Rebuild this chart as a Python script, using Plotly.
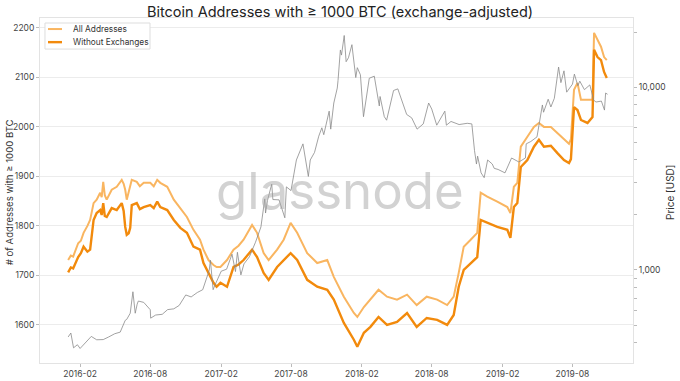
import plotly.graph_objects as go

# ---- Address counts ----
addr_dates = [
    "2016-01-01", "2016-01-08", "2016-01-14", "2016-01-20", "2016-01-27", "2016-02-03", "2016-02-10",
    "2016-02-20", "2016-02-27", "2016-03-07", "2016-03-15", "2016-03-24", "2016-03-28", "2016-04-01",
    "2016-04-05", "2016-04-10", "2016-04-23", "2016-05-06", "2016-05-19", "2016-05-24", "2016-05-28",
    "2016-06-01", "2016-06-06", "2016-06-10", "2016-06-14", "2016-06-27", "2016-07-05", "2016-07-15",
    "2016-08-01", "2016-08-10", "2016-08-19", "2016-08-27", "2016-09-14", "2016-10-01", "2016-10-18",
    "2016-11-04", "2016-11-21", "2016-12-08", "2016-12-17", "2016-12-30", "2017-01-12", "2017-01-20",
    "2017-01-30", "2017-02-16", "2017-03-05", "2017-03-18", "2017-03-31", "2017-04-22", "2017-05-05",
    "2017-05-22", "2017-06-04", "2017-06-26", "2017-07-13", "2017-07-31", "2017-08-17", "2017-09-12",
    "2017-10-08", "2017-11-03", "2017-11-20", "2017-12-16", "2018-01-11", "2018-01-20", "2018-02-06",
    "2018-02-23", "2018-03-16", "2018-04-07", "2018-05-03", "2018-05-29", "2018-06-23", "2018-07-19",
    "2018-08-15", "2018-09-10", "2018-09-27", "2018-10-10", "2018-10-23", "2018-11-10", "2018-11-27",
    "2018-12-06", "2018-12-23", "2019-01-18", "2019-02-13", "2019-02-21", "2019-03-02", "2019-03-11",
    "2019-03-20", "2019-04-06", "2019-04-23", "2019-05-06", "2019-05-19", "2019-06-06", "2019-06-23",
    "2019-07-10", "2019-07-23", "2019-07-28", "2019-08-05", "2019-08-14", "2019-08-23", "2019-09-09",
    "2019-09-22", "2019-09-26", "2019-10-05", "2019-10-14", "2019-10-22", "2019-10-29",
]
all_addresses = [
    1731, 1740, 1738, 1752, 1765, 1770, 1786,
    1800, 1812, 1846, 1853, 1867, 1858, 1889,
    1862, 1853, 1873, 1879, 1893, 1885, 1873,
    1853, 1868, 1879, 1893, 1889, 1880, 1887,
    1887, 1880, 1893, 1887, 1879, 1853, 1836,
    1818, 1792, 1772, 1752, 1731, 1721, 1717,
    1717, 1731, 1752, 1760, 1772, 1802, 1786,
    1745, 1731, 1752, 1772, 1806, 1786, 1745,
    1725, 1731, 1697, 1657, 1624, 1616, 1636,
    1651, 1671, 1657, 1651, 1661, 1640, 1657,
    1651, 1640, 1657, 1705, 1758, 1772, 1786,
    1867, 1859, 1849, 1838, 1826, 1879, 1887,
    1960, 1980, 2000, 2008, 2000, 2000, 1988,
    1974, 1966, 1975, 2075, 2089, 2055, 2055,
    2055, 2190, 2176, 2162, 2141, 2135,
]
without_exchanges = [
    1706, 1716, 1714, 1725, 1737, 1745, 1758,
    1748, 1752, 1812, 1826, 1832, 1822, 1846,
    1820, 1818, 1836, 1832, 1846, 1830, 1798,
    1782, 1785, 1796, 1842, 1846, 1834, 1838,
    1842, 1836, 1849, 1838, 1832, 1812, 1796,
    1786, 1758, 1752, 1725, 1705, 1685, 1677,
    1685, 1677, 1717, 1722, 1731, 1752, 1737,
    1705, 1691, 1717, 1731, 1745, 1731, 1691,
    1677, 1671, 1651, 1604, 1570, 1556, 1584,
    1596, 1616, 1600, 1606, 1624, 1596, 1614,
    1610, 1600, 1620, 1677, 1711, 1725, 1737,
    1812, 1806, 1798, 1792, 1776, 1838, 1846,
    1919, 1933, 1960, 1974, 1960, 1962, 1947,
    1933, 1927, 1935, 2040, 2034, 2014, 2008,
    2020, 2156, 2141, 2135, 2111, 2099,
]

# ---- BTC price (USD) ----
price_dates = [
    "2016-01-01", "2016-01-08", "2016-01-15", "2016-01-25", "2016-02-01", "2016-02-15", "2016-03-01",
    "2016-03-15", "2016-04-01", "2016-04-15", "2016-05-01", "2016-05-15", "2016-05-28", "2016-06-01",
    "2016-06-10", "2016-06-17", "2016-06-23", "2016-06-28", "2016-07-01", "2016-07-15", "2016-08-01",
    "2016-08-02", "2016-08-15", "2016-09-01", "2016-09-15", "2016-10-01", "2016-10-15", "2016-11-01",
    "2016-11-15", "2016-12-01", "2016-12-15", "2017-01-01", "2017-01-04", "2017-01-11", "2017-01-15",
    "2017-02-01", "2017-02-15", "2017-03-01", "2017-03-10", "2017-03-15", "2017-03-24", "2017-04-01",
    "2017-04-15", "2017-05-01", "2017-05-15", "2017-05-25", "2017-05-27", "2017-06-01", "2017-06-12",
    "2017-06-15", "2017-07-01", "2017-07-16", "2017-07-20", "2017-08-01", "2017-08-15", "2017-09-01",
    "2017-09-15", "2017-09-20", "2017-10-01", "2017-10-12", "2017-10-20", "2017-10-25", "2017-11-08",
    "2017-11-12", "2017-11-20", "2017-11-29", "2017-12-01", "2017-12-07", "2017-12-10", "2017-12-17",
    "2017-12-22", "2017-12-28", "2018-01-06", "2018-01-16", "2018-01-20", "2018-01-28", "2018-02-05",
    "2018-02-20", "2018-03-05", "2018-03-18", "2018-03-20", "2018-03-31", "2018-04-06", "2018-04-24",
    "2018-05-05", "2018-05-28", "2018-06-10", "2018-06-24", "2018-07-10", "2018-07-24", "2018-08-01",
    "2018-08-14", "2018-09-04", "2018-09-08", "2018-09-20", "2018-10-11", "2018-11-01", "2018-11-13",
    "2018-11-15", "2018-11-20", "2018-11-25", "2018-11-28", "2018-12-07", "2018-12-15", "2018-12-24",
    "2019-01-05", "2019-01-10", "2019-01-20", "2019-02-07", "2019-02-24", "2019-03-15", "2019-04-01",
    "2019-04-03", "2019-04-15", "2019-05-01", "2019-05-15", "2019-05-18", "2019-05-30", "2019-06-06",
    "2019-06-15", "2019-06-26", "2019-07-02", "2019-07-10", "2019-07-17", "2019-08-01", "2019-08-06",
    "2019-08-15", "2019-08-20", "2019-09-01", "2019-09-15", "2019-09-25", "2019-10-01", "2019-10-15",
    "2019-10-23", "2019-10-26", "2019-10-31",
]
price_usd = [
    430, 452, 375, 390, 372, 400, 433,
    415, 416, 430, 448, 457, 530, 537,
    580, 760, 580, 650, 676, 665, 606,
    545, 567, 572, 607, 613, 640, 730,
    712, 753, 780, 998, 1130, 780, 820,
    985, 1010, 1220, 980, 1250, 940, 1080,
    1180, 1420, 1720, 2450, 2050, 2400, 2950,
    2430, 2420, 1930, 2850, 2720, 4000, 4900,
    3250, 4000, 4400, 5400, 6000, 5500, 7400,
    5900, 8200, 9900, 10900, 16000, 15000, 19200,
    13800, 14500, 17100, 11300, 12800, 11700, 6900,
    11200, 11500, 7900, 8900, 6900, 6600, 9600,
    9800, 7100, 6800, 5900, 6300, 8200, 7600,
    6200, 7400, 6200, 6500, 6250, 6350, 6300,
    5600, 4500, 3800, 4200, 3400, 3200, 4000,
    3800, 3600, 3550, 3400, 4100, 3900, 4100,
    4900, 5050, 5350, 8000, 7300, 8600, 7800,
    8700, 12900, 10600, 12300, 9400, 10400, 11800,
    10200, 10800, 9700, 10300, 8500, 8300, 8400,
    7500, 9300, 9150,
]

# right-axis ticks
price_tick_vals = [400, 500, 600, 700, 800, 900, 1000, 2000, 3000, 4000, 5000,
                   6000, 7000, 8000, 9000, 10000, 20000]
price_tick_text = ["", "", "", "", "", "", "1,000", "", "", "", "",
                   "", "", "", "", "10,000", ""]

legend_names = ["All Addresses", "Without Exchanges"]
COL_ALL = "#f9b560"
COL_WO = "#f28a0c"
FONT = "Inter, Roboto, sans-serif"

fig = go.Figure()
fig.add_trace(go.Scatter(
    x=addr_dates, y=all_addresses, name=legend_names[0], mode="lines",
    line=dict(color=COL_ALL, width=2), yaxis="y", showlegend=False))
fig.add_trace(go.Scatter(
    x=addr_dates, y=without_exchanges, name=legend_names[1], mode="lines",
    line=dict(color=COL_WO, width=2.4), yaxis="y", showlegend=False))
fig.add_trace(go.Scatter(
    x=price_dates, y=price_usd, name="Price", mode="lines", showlegend=False,
    line=dict(color="#8a8a8a", width=0.8), yaxis="y2"))

# legend box drawn as layout decoration (paper coordinates)
shapes = [
    dict(type="rect", xref="paper", yref="paper", x0=0.0084, x1=0.1855, y0=0.910, y1=0.9855,
         line=dict(color="#dddddd", width=1), fillcolor="white", layer="above"),
    dict(type="line", xref="paper", yref="paper", x0=0.0135, x1=0.0371, y0=0.968, y1=0.968,
         line=dict(color=COL_ALL, width=2), layer="above"),
    dict(type="line", xref="paper", yref="paper", x0=0.0135, x1=0.0371, y0=0.930, y1=0.930,
         line=dict(color=COL_WO, width=2.4), layer="above"),
]

annotations = [
    dict(text="glassnode", xref="paper", yref="paper", x=0.506, y=0.501,
         xanchor="center", yanchor="middle", showarrow=False,
         font=dict(family=FONT, size=51, color="rgba(165,165,165,0.5)")),
    dict(text="# of Addresses with ≥ 1000 BTC", xref="paper", yref="paper",
         x=-0.0523, y=0.495, xanchor="center", yanchor="middle", textangle=-90,
         showarrow=False, font=dict(family=FONT, size=9.6, color="#333")),
    dict(text="Price [USD]", xref="paper", yref="paper",
         x=1.062, y=0.495, xanchor="center", yanchor="middle", textangle=-90,
         showarrow=False, font=dict(family=FONT, size=10, color="#333")),
    dict(text=legend_names[0], xref="paper", yref="paper", x=0.0523, y=0.968,
         xanchor="left", yanchor="middle", showarrow=False,
         font=dict(family=FONT, size=8.3, color="#333")),
    dict(text=legend_names[1], xref="paper", yref="paper", x=0.0523, y=0.930,
         xanchor="left", yanchor="middle", showarrow=False,
         font=dict(family=FONT, size=8.3, color="#333")),
]

TICKFONT = dict(family=FONT, size=8.5, color="#444")

fig.update_layout(
    width=680, height=381,
    margin=dict(l=40, r=47, t=18, b=18, autoexpand=False),
    paper_bgcolor="white", plot_bgcolor="white",
    font=dict(family=FONT, size=10, color="#444"),
    title=dict(text="Bitcoin Addresses with ≥ 1000 BTC (exchange-adjusted)",
               x=0.5, xanchor="center", y=0.968, yanchor="middle",
               font=dict(family=FONT, size=14.5, color="#222")),
    xaxis=dict(
        type="date", range=["2015-10-20", "2020-01-05"], automargin=False,
        tick0="2016-02-01", dtick="M6", tickformat="%Y-%m",
        showgrid=False, showline=True, linecolor="#e3e3e3", linewidth=1, mirror=True,
        ticks="outside", ticklen=3, tickcolor="#bbb", tickfont=TICKFONT,
        zeroline=False),
    yaxis=dict(
        range=[1523, 2220], tickvals=[1600, 1700, 1800, 1900, 2000, 2100, 2200],
        automargin=False,
        showgrid=True, gridcolor="#ececec", gridwidth=1,
        showline=True, linecolor="#e3e3e3", linewidth=1, mirror=True,
        ticks="outside", ticklen=3, tickcolor="#bbb", tickfont=TICKFONT,
        zeroline=False),
    yaxis2=dict(
        type="log", range=[2.491, 4.379], overlaying="y", side="right", automargin=False,
        tickvals=price_tick_vals, ticktext=price_tick_text,
        showgrid=False, showline=False, ticks="outside", ticklen=3, tickcolor="#bbb",
        tickfont=TICKFONT, zeroline=False),
    showlegend=False,
    shapes=shapes,
    annotations=annotations,
)

fig.write_html(
    "out.html",
    config={"displayModeBar": False},
    post_script="document.body.style.margin='0';document.body.style.overflow='hidden';",
)
